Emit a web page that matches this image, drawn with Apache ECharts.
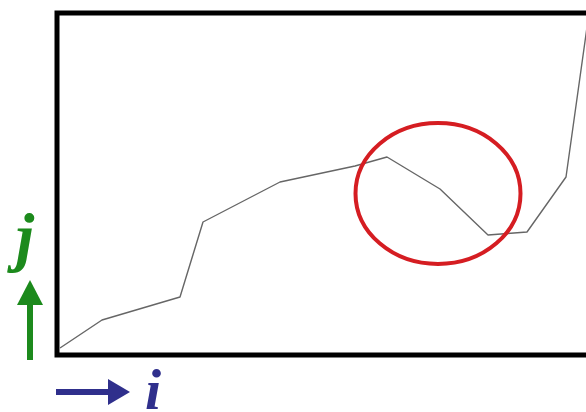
<!DOCTYPE html>
<html><head><meta charset="utf-8">
<script src="https://cdn.jsdelivr.net/npm/echarts@6/dist/echarts.min.js"></script>
<style>html,body{margin:0;padding:0;background:#fff;overflow:hidden;width:586px;height:412px}#c{width:612px;height:412px}</style>
</head><body><div id="c"></div>
<script>
// i positions and j values of the curve (axis units)
const iValues = [0.06, 0.9, 2.46, 2.92, 4.46, 5.96, 6.6, 7.66, 8.62, 9.4, 10.18, 10.62];
const jValues = [0.14, 0.7, 1.16, 2.66, 3.46, 3.78, 3.96, 3.32, 2.4, 2.46, 3.56, 6.7];
// highlighted region (ellipse) in axis units: centre i, centre j, radius i, radius j
const highlight = { ci: 7.62, cj: 3.23, ri: 1.65, rj: 1.41 };
const xLabel = 'i';
const yLabel = 'j';

const chart = echarts.init(document.getElementById('c'), null, { renderer: 'canvas' });
const option = {
  animation: false,
  grid: { left: 57, top: 13, right: 6, bottom: 57, show: true, borderColor: '#000', borderWidth: 5, backgroundColor: 'transparent' },
  xAxis: { type: 'value', min: 0, max: 10.98, axisLine: { show: false }, axisTick: { show: false }, axisLabel: { show: false }, splitLine: { show: false } },
  yAxis: { type: 'value', min: 0, max: 6.84, axisLine: { show: false }, axisTick: { show: false }, axisLabel: { show: false }, splitLine: { show: false } },
  series: [{
    type: 'line',
    data: iValues.map((v, k) => [v, jValues[k]]),
    symbol: 'none',
    clip: false,
    lineStyle: { color: '#666666', width: 1.4 }
  }]
};
chart.setOption(option);

const c = chart.convertToPixel({ gridIndex: 0 }, [highlight.ci, highlight.cj]);
const e = chart.convertToPixel({ gridIndex: 0 }, [highlight.ci + highlight.ri, highlight.cj + highlight.rj]);
const green = '#1c8a1c', blue = '#2f2f8c';
chart.setOption({
  graphic: [
    { type: 'ellipse', shape: { cx: c[0], cy: c[1], rx: e[0] - c[0], ry: c[1] - e[1] }, style: { fill: 'none', stroke: '#d51d22', lineWidth: 4 }, z: 10 },
    // vertical arrow (j)
    { type: 'rect', shape: { x: 27, y: 300, width: 6, height: 60 }, style: { fill: green } },
    { type: 'polygon', shape: { points: [[30, 280], [17, 305], [43, 305]] }, style: { fill: green } },
    { type: 'text', x: 25, y: 242, style: { text: yLabel, font: 'italic bold 66px "Liberation Serif", serif', fill: green, textAlign: 'center', textVerticalAlign: 'middle' } },
    // horizontal arrow (i)
    { type: 'rect', shape: { x: 56, y: 389, width: 56, height: 6 }, style: { fill: blue } },
    { type: 'polygon', shape: { points: [[130, 392], [108, 379], [108, 405]] }, style: { fill: blue } },
    { type: 'text', x: 153, y: 394, style: { text: xLabel, font: 'italic bold 58px "Liberation Serif", serif', fill: blue, textAlign: 'center', textVerticalAlign: 'middle' } }
  ]
});
</script></body></html>
